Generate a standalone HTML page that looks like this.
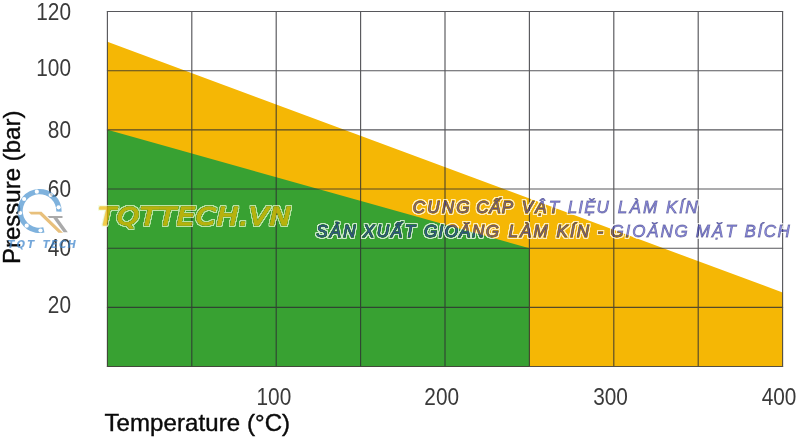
<!DOCTYPE html>
<html><head><meta charset="utf-8">
<style>
html,body{margin:0;padding:0;background:#fff;}
body{width:800px;height:438px;overflow:hidden;position:relative;font-family:"Liberation Sans",sans-serif;}
svg{position:absolute;left:0;top:0;}
</style></head><body>
<svg width="800" height="438" viewBox="0 0 800 438">
<rect width="800" height="438" fill="#fff"/>
<!-- areas -->
<polygon points="107.4,41.8 782.6,292.5 782.6,366.5 107.4,366.5" fill="#f5b705"/>
<polygon points="107.4,129.8 529.4,248.2 529.4,366.5 107.4,366.5" fill="#38a132"/>
<!-- grid -->
<g stroke="#2e2e33" stroke-width="1.15" fill="none" opacity="0.8">
<path d="M107.4,11V367M191.8,11V367M276.2,11V367M360.6,11V367M445.0,11V367M529.4,11V367M613.8,11V367M698.2,11V367M782.6,11V367"/>
<path d="M106.9,11.5H783.1M106.9,70.7H783.1M106.9,129.8H783.1M106.9,189.0H783.1M106.9,248.2H783.1M106.9,307.3H783.1M106.9,366.5H783.1"/>
</g>
<!-- y labels -->
<g font-family="Liberation Sans, sans-serif" font-size="23.4" fill="#3a3a3a" text-anchor="end">
<text transform="translate(71,19.7) scale(0.89,1)">120</text>
<text transform="translate(71,76.0) scale(0.89,1)">100</text>
<text transform="translate(71,137.8) scale(0.89,1)">80</text>
<text transform="translate(71,197.1) scale(0.89,1)">60</text>
<text transform="translate(71,256.1) scale(0.89,1)">40</text>
<text transform="translate(71,313.4) scale(0.89,1)">20</text>
</g>
<g font-family="Liberation Sans, sans-serif" font-size="23.4" fill="#3a3a3a" text-anchor="middle">
<text transform="translate(273.9,404.7) scale(0.89,1)">100</text>
<text transform="translate(441.7,404.7) scale(0.89,1)">200</text>
<text transform="translate(610.5,404.7) scale(0.89,1)">300</text>
<text transform="translate(779.0,404.7) scale(0.89,1)">400</text>
</g>
<text x="104.5" y="431" textLength="185.6" font-family="Liberation Sans, sans-serif" font-size="24" fill="#0a0a0a" stroke="#0a0a0a" stroke-width="0.4">Temperature (°C)</text>
<text transform="translate(20,264) rotate(-90)" font-family="Liberation Sans, sans-serif" font-size="24" fill="#0a0a0a" stroke="#0a0a0a" stroke-width="0.4">Pressure (bar)</text>
<!-- logo -->
<g id="logo" opacity="0.72">
<path d="M44.47,232.53A22.1,22.1 0 1 1 61.59,211.77L56.29,211.59A16.8,16.8 0 1 0 43.28,227.37Z" fill="#4f95d0"/>
<circle cx="58.6" cy="207.3" r="2.1" fill="#fff"/><circle cx="50.7" cy="195.0" r="2.1" fill="#fff"/><circle cx="36.8" cy="191.7" r="2.1" fill="#fff"/><circle cx="24.1" cy="199.0" r="2.1" fill="#fff"/><circle cx="20.1" cy="213.0" r="2.1" fill="#fff"/><circle cx="26.7" cy="225.7" r="2.1" fill="#fff"/><circle cx="40.5" cy="230.5" r="2.1" fill="#fff"/>
<path d="M28.5,211.8 L41.5,211.8 L63,232.7 L58.5,232.7 L39.5,214.5 L31,214.5 Z" fill="#e0a84a"/>
<path d="M47.5,216 L62.5,216 L62.5,218 L57.5,218 L67.8,232.3 L63.6,232.3 L53.3,218 L49.3,218 Z" fill="#8a8a8a"/>
<g font-family="DejaVu Sans, sans-serif" font-weight="bold" font-style="italic" font-size="10.2" fill="#3f86cc"><text x="7.6" y="247.7" letter-spacing="2.0">TQT</text><text x="42.8" y="247.7" letter-spacing="1.1">TECH</text></g>
</g>
<!-- watermark texts -->
<g font-family="DejaVu Sans, sans-serif" font-weight="normal" font-style="italic" font-size="25" letter-spacing="1.0" id="wm1">
<filter id="ring2" x="-5%" y="-50%" width="110%" height="200%"><feComponentTransfer in="SourceAlpha" result="sa"><feFuncA type="linear" slope="5"/></feComponentTransfer><feMorphology in="sa" operator="dilate" radius="1.3" result="d"/><feGaussianBlur in="d" stdDeviation="0.6" result="db"/><feComposite in="db" in2="sa" operator="out" result="r"/><feFlood flood-color="#f4ffd8" flood-opacity="0.7"/><feComposite in2="r" operator="in"/></filter>
<use href="#wm1t" filter="url(#ring2)"/>
<g opacity="0.18" transform="translate(97.9,225.3) scale(1.13,1)"><text x="0" y="0" fill="#3c5000" stroke="#3c5000" stroke-width="1.3" stroke-linejoin="round">TQTTECH.VN</text></g>
<g id="wm1t" opacity="0.64" transform="translate(98.6,224.7) scale(1.13,1)"><text x="0" y="0" fill="#ffc400" stroke="#ffc400" stroke-width="1.3" stroke-linejoin="round">TQTTECH.VN</text></g>
</g>
<g font-family="Liberation Sans, sans-serif" font-weight="normal" font-style="italic" font-size="17" id="wm2">
<filter id="ring" x="-5%" y="-50%" width="110%" height="200%"><feComponentTransfer in="SourceAlpha" result="sa"><feFuncA type="linear" slope="5"/></feComponentTransfer><feMorphology in="sa" operator="dilate" radius="1.2" result="d"/><feGaussianBlur in="d" stdDeviation="0.45" result="db"/><feComposite in="db" in2="sa" operator="out" result="r"/><feFlood flood-color="#fff" flood-opacity="0.75"/><feComposite in2="r" operator="in"/></filter>
<use href="#wmt" filter="url(#ring)" fill="#000" stroke="#000" stroke-width="0.8"/>
<g id="wmt" fill="rgba(65,65,220,0.53)" stroke="rgba(25,25,100,0.52)" stroke-width="0.8">
<text y="213.3" xml:space="preserve"><tspan x="412.8" letter-spacing="2.20">CUNG </tspan><tspan x="476.2" letter-spacing="1.00">CẤP </tspan><tspan x="521.8" letter-spacing="2.20">VẬT </tspan><tspan x="567.8" letter-spacing="1.08">LIỆU </tspan><tspan x="617.8" letter-spacing="2.20">LÀM </tspan><tspan x="666.0" letter-spacing="1.62">KÍN</tspan></text>
<text y="236.8" xml:space="preserve"><tspan x="316.2" letter-spacing="2.20">SẢN </tspan><tspan x="363.1" letter-spacing="2.20">XUẤT </tspan><tspan x="424.0" letter-spacing="1.40">GIOĂNG </tspan><tspan x="508.4" letter-spacing="2.20">LÀM </tspan><tspan x="556.4" letter-spacing="2.20">KÍN </tspan><tspan x="597.4" letter-spacing="0.00">- </tspan><tspan x="610.5" letter-spacing="1.85">GIOĂNG </tspan><tspan x="695.7" letter-spacing="2.20">MẶT </tspan><tspan x="744.5" letter-spacing="1.58">BÍCH</tspan></text>
</g>
</g>
</svg>
</body></html>
